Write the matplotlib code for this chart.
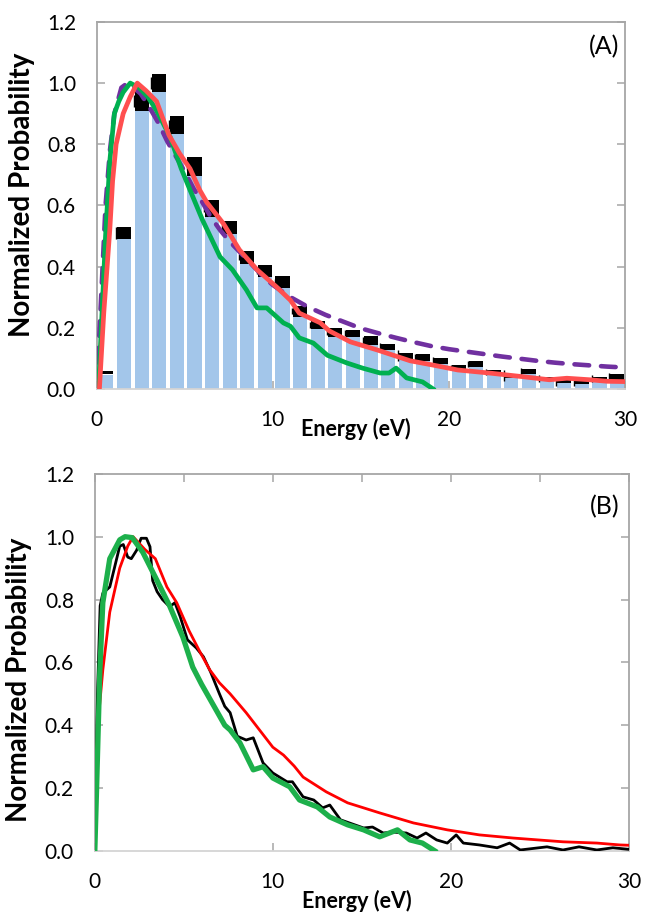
import matplotlib
matplotlib.use("Agg")
import matplotlib.pyplot as plt
import numpy as np

plt.rcParams['font.family'] = ['Lato', 'DejaVu Sans']

# ---- panel A: histogram bins (1 eV wide) ----
bin_index = list(range(30))
bar_heights = [0.045, 0.49, 0.91, 0.97, 0.834, 0.697, 0.562, 0.507, 0.409, 0.366,
               0.33, 0.235, 0.196, 0.17, 0.17, 0.144, 0.128, 0.098, 0.092, 0.082,
               0.062, 0.072, 0.046, 0.035, 0.049, 0.03, 0.02, 0.016, 0.03, 0.03]
exp_lo = [0.049, 0.49, 0.91, 0.97, 0.834, 0.697, 0.562, 0.507, 0.409, 0.366,
          0.33, 0.235, 0.196, 0.17, 0.17, 0.144, 0.128, 0.098, 0.092, 0.082,
          0.062, 0.072, 0.046, 0.035, 0.049, 0.03, 0.02, 0.016, 0.03, 0.03]
exp_hi = [0.060, 0.53, 0.975, 1.03, 0.893, 0.759, 0.618, 0.549, 0.451, 0.405,
          0.37, 0.272, 0.222, 0.2, 0.193, 0.173, 0.147, 0.118, 0.115, 0.101,
          0.078, 0.092, 0.062, 0.05, 0.065, 0.04, 0.03, 0.026, 0.04, 0.05]
exp_err = [0.012, 0.02, 0.02, 0.02, 0.015, 0.012, 0.01, 0.01, 0.01, 0.01,
           0.01, 0.01, 0.01, 0.01, 0.01, 0.01, 0.012, 0.018, 0.01, 0.012,
           0.008, 0.01, 0.01, 0.018, 0.012, 0.012, 0.015, 0.01, 0.012, 0.012]

# dashed purple model
purple_E = [0, 0.25, 0.5, 0.75, 1.0, 1.4, 1.75, 2.0, 2.5, 3.0, 3.5, 4.0, 4.5, 5.0,
            5.5, 6.0, 6.5, 7.0, 7.5, 8.0, 8.5, 9.0, 9.5, 10.0, 10.5, 11.0, 12.0,
            13.0, 14.0, 15.0, 16.0, 17.0, 18.0, 19.0, 20.0, 21.0, 22.0, 23.0, 24.0,
            25.0, 26.0, 27.0, 28.0, 29.0, 30.0]
purple_P = [0, 0.3, 0.6, 0.78, 0.9, 0.985, 1.0, 0.99, 0.965, 0.92, 0.87, 0.81, 0.76,
            0.71, 0.655, 0.61, 0.56, 0.52, 0.485, 0.455, 0.425, 0.395, 0.365, 0.34,
            0.32, 0.30, 0.268, 0.242, 0.22, 0.198, 0.182, 0.167, 0.153, 0.14, 0.13,
            0.122, 0.114, 0.106, 0.099, 0.092, 0.086, 0.081, 0.077, 0.073, 0.07]

# red model (panel A)
redA_E = [0.15, 0.4, 0.74, 0.9, 1.1, 1.5, 1.9, 2.3, 2.8, 3.4, 4.1, 4.7, 5.3, 5.85,
          6.25, 7.2, 8.1, 9.1, 10.2, 11.0, 11.5, 12.7, 13.2, 14.4, 15.9, 17.8, 19.1,
          20.5, 22.3, 24.2, 25.7, 26.7, 28.0, 29.0, 30.0]
redA_P = [0, 0.25, 0.52, 0.68, 0.8, 0.9, 0.955, 1.0, 0.975, 0.94, 0.83, 0.77, 0.72,
          0.65, 0.61, 0.54, 0.455, 0.39, 0.334, 0.29, 0.248, 0.216, 0.19, 0.154,
          0.128, 0.092, 0.078, 0.062, 0.052, 0.04, 0.03, 0.035, 0.03, 0.025, 0.024]

# green model (panel A)
greenA_E = [0.1, 0.3, 0.5, 0.75, 1.0, 1.25, 1.5, 1.9, 2.4, 2.9, 3.4, 4.15, 4.8,
            5.3, 6.0, 7.0, 7.7, 8.5, 9.1, 9.65, 10.6, 11.0, 11.5, 12.3, 13.1, 14.2,
            15.1, 16.1, 16.6, 17.0, 17.6, 18.5, 19.1]
greenA_P = [0, 0.25, 0.5, 0.75, 0.9, 0.94, 0.97, 1.0, 0.985, 0.955, 0.91, 0.826,
            0.72, 0.65, 0.553, 0.432, 0.39, 0.324, 0.265, 0.265, 0.216, 0.205,
            0.167, 0.15, 0.11, 0.085, 0.068, 0.052, 0.052, 0.068, 0.036, 0.023, 0.0]

# ---- panel B curves ----
greenB_E = [0, 0.1, 0.28, 0.45, 0.84, 1.4, 1.7, 2.1, 2.7, 3.5, 4.2, 4.95, 5.5, 6.0,
            6.5, 7.0, 7.3, 7.6, 8.15, 8.9, 9.45, 10.0, 10.95, 11.5, 12.5, 13.2,
            14.2, 15.1, 16.0, 17.0, 17.7, 18.4, 19.1]
greenB_P = [0, 0.2, 0.57, 0.79, 0.93, 0.99, 1.0, 0.997, 0.95, 0.86, 0.78, 0.68,
            0.585, 0.53, 0.48, 0.43, 0.40, 0.385, 0.344, 0.258, 0.268, 0.232,
            0.204, 0.162, 0.14, 0.108, 0.083, 0.067, 0.045, 0.067, 0.035, 0.025, 0.0]

redB_E = [0.05, 0.2, 0.45, 0.84, 1.4, 1.85, 2.15, 2.8, 3.4, 4.05, 4.6, 5.3, 5.9,
          6.46, 7.0, 7.6, 8.5, 10.0, 10.6, 11.2, 11.7, 13.0, 14.2, 16.0, 17.9, 19.8,
          21.6, 23.5, 26.3, 28.2, 29.5, 30.0]
redB_P = [0.25, 0.42, 0.576, 0.76, 0.90, 0.97, 1.0, 0.96, 0.93, 0.84, 0.79, 0.70,
          0.634, 0.576, 0.535, 0.50, 0.44, 0.33, 0.305, 0.27, 0.235, 0.188, 0.153,
          0.121, 0.089, 0.067, 0.051, 0.041, 0.029, 0.025, 0.019, 0.018]

blackB_E = [0, 0.15, 0.3, 0.45, 0.84, 1.1, 1.4, 1.6, 1.85, 2.05, 2.35, 2.6, 2.9,
            3.1, 3.25, 3.5, 3.8, 4.2, 4.5, 4.8, 5.2, 5.7, 6.1, 6.5, 7.0, 7.3, 7.6,
            8.0, 8.5, 8.9, 9.45, 10.0, 10.8, 11.1, 11.7, 12.3, 12.8, 13.2, 13.8,
            14.3, 15.1, 15.6, 16.2, 16.7, 17.5, 18.1, 18.6, 19.2, 19.8, 20.3, 20.7,
            21.6, 22.6, 23.3, 23.9, 25.4, 26.3, 27.2, 28.2, 29.1, 30.0]
blackB_P = [0, 0.5, 0.78, 0.82, 0.84, 0.90, 0.97, 0.975, 0.935, 0.93, 0.957, 0.995,
            0.995, 0.968, 0.86, 0.825, 0.80, 0.777, 0.79, 0.745, 0.672, 0.646,
            0.618, 0.57, 0.50, 0.46, 0.44, 0.365, 0.353, 0.36, 0.28, 0.248, 0.22,
            0.22, 0.172, 0.162, 0.137, 0.146, 0.099, 0.089, 0.073, 0.076, 0.057,
            0.06, 0.057, 0.041, 0.057, 0.035, 0.025, 0.051, 0.025, 0.019, 0.01,
            0.025, 0.003, 0.013, 0.003, 0.013, 0.003, 0.01, 0.005]

y_ticks = [0.0, 0.2, 0.4, 0.6, 0.8, 1.0, 1.2]
y_labels = ['0.0', '0.2', '0.4', '0.6', '0.8', '1.0', '1.2']
x_ticks = [0, 10, 20, 30]


def style_axes(ax, top_ticks):
    ax.set_xlim(0, 30)
    ax.set_ylim(0, 1.2)
    ax.set_yticks(y_ticks)
    ax.set_yticklabels(y_labels)
    ax.set_xticks(x_ticks)
    for side in ['left', 'top', 'right']:
        ax.spines[side].set_color('#a6a6a6')
        ax.spines[side].set_linewidth(1.3)
    ax.spines['bottom'].set_color('#d4d4d4')
    ax.spines['bottom'].set_linewidth(1.3)
    ax.tick_params(axis='y', direction='in', length=6, width=1.1, color='#a6a6a6',
                   right=True, left=True, labelsize=15, pad=15)
    ax.tick_params(axis='x', direction='in', length=6, width=1.1, color='#a6a6a6',
                   labelsize=15, pad=15, top=False)
    if top_ticks:
        ax2 = ax.secondary_xaxis('top')
        ax2.set_xticks([0, 5, 10, 15, 20, 25, 30])
        ax2.tick_params(direction='in', length=6, width=1.1, color='#a6a6a6',
                        labeltop=False)
        ax2.spines['top'].set_visible(False)
    ax.set_xlabel('Energy (eV)', fontsize=15.5, fontweight='bold')
    ax.set_ylabel('Normalized Probability', fontsize=20, fontweight='bold')


fig = plt.figure(figsize=(6.45, 9.13), dpi=100)

axA = fig.add_axes([0.150, 0.574, 0.819, 0.402])
xc = np.array(bin_index) + 0.55
axA.bar(xc, bar_heights, width=0.8, color='#a3c6ea', zorder=1)
axA.bar(xc, np.array(exp_hi) - np.array(exp_lo), bottom=exp_lo, width=0.8,
        color='black', zorder=2)
axA.errorbar(xc - 0.45, (np.array(exp_lo) + np.array(exp_hi)) / 2, yerr=exp_err,
             fmt='none', ecolor='black', elinewidth=1.0, zorder=2)
axA.plot(purple_E, purple_P, color='#7030a0', lw=3.3, dashes=(3.2, 2.6),
         solid_capstyle='round', dash_capstyle='round', zorder=3)
axA.plot(greenA_E, greenA_P, color='#00b050', lw=3.4, zorder=4)
axA.plot(redA_E, redA_P, color='#ff4f4f', lw=3.4, zorder=5)
style_axes(axA, False)
axA.text(0.99, 0.932, '(A)', transform=axA.transAxes, ha='right', va='center',
         fontsize=18)
axA.xaxis.set_label_coords(0.49, -0.08)
axA.yaxis.set_label_coords(-0.117, 0.53)

axB = fig.add_axes([0.147, 0.068, 0.828, 0.413])
axB.plot(blackB_E, blackB_P, color='black', lw=2.0, zorder=3)
axB.plot(redB_E, redB_P, color='#ff0000', lw=2.0, zorder=4)
axB.plot(greenB_E, greenB_P, color='#1db04b', lw=3.8, zorder=5)
style_axes(axB, True)
axB.text(0.983, 0.912, '(B)', transform=axB.transAxes, ha='right', va='center',
         fontsize=18)
axB.xaxis.set_label_coords(0.49, -0.104)
axB.yaxis.set_label_coords(-0.117, 0.455)

fig.savefig('out.png', dpi=100)
